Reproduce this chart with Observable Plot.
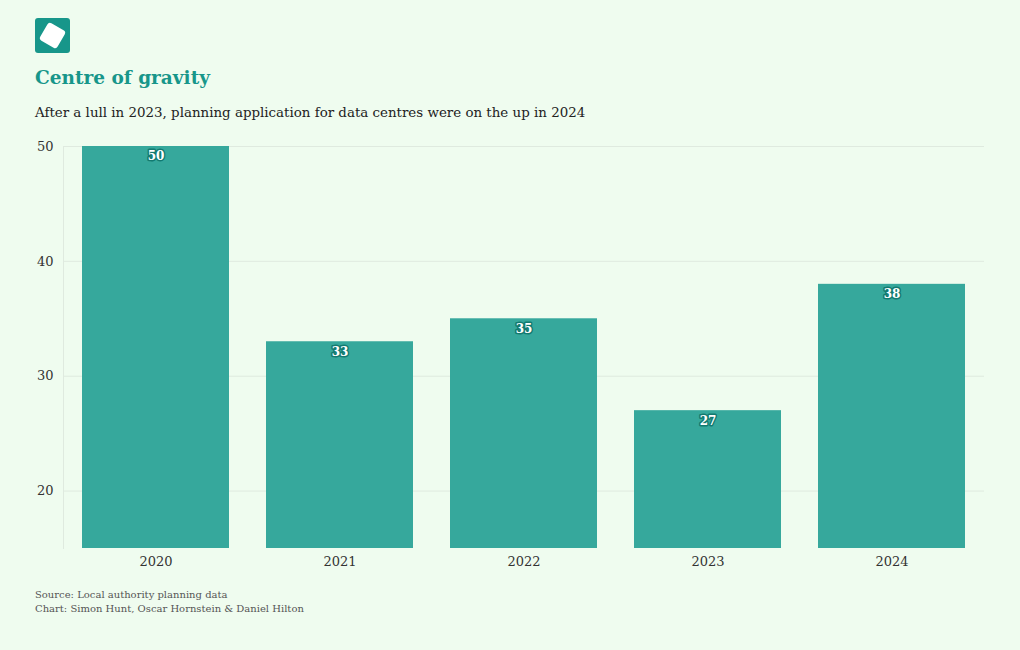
<!DOCTYPE html>
<html>
<head>
<meta charset="utf-8">
<script src="https://cdn.jsdelivr.net/npm/d3@7"></script>
<script src="https://cdn.jsdelivr.net/npm/@observablehq/plot@0.6"></script>
<style>
  html, body { margin: 0; padding: 0; background: #effcef; }
  #wrap { position: relative; width: 1020px; height: 650px; background: #effcef; font-family: "DejaVu Serif", serif; overflow: hidden; }
  #logo { position: absolute; left: 35px; top: 18px; }
  #title { position: absolute; left: 35px; top: 67px; font-size: 18.5px; font-weight: bold; color: #17968a; margin: 0; }
  #subtitle { position: absolute; left: 35px; top: 105px; font-size: 13.4px; color: #222; margin: 0; }
  #chart { position: absolute; left: 0; top: 136px; }
  #caption { position: absolute; left: 35px; top: 588px; font-size: 10px; color: #555; line-height: 13.5px; }
</style>
</head>
<body>
<div id="wrap">
  <svg id="logo" width="35" height="35" viewBox="0 0 35 35">
    <rect x="0" y="0" width="35" height="35" rx="3" fill="#17968a"/>
    <rect x="7.5" y="7.5" width="20" height="20" rx="3" fill="#ffffff" transform="rotate(30 17.5 17.5)"/>
  </svg>
  <div id="title">Centre of gravity</div>
  <div id="subtitle">After a lull in 2023, planning application for data centres were on the up in 2024</div>
  <div id="chart"></div>
  <div id="caption">Source: Local authority planning data<br>Chart: Simon Hunt, Oscar Hornstein &amp; Daniel Hilton</div>
</div>
<script>
const years = ["2020", "2021", "2022", "2023", "2024"];
const counts = [50, 33, 35, 27, 38];
const yTicks = [20, 30, 40, 50];

const data = years.map((y, i) => ({year: y, count: counts[i]}));

const chart = Plot.plot({
  width: 1020,
  height: 442,
  marginTop: 10,
  marginLeft: 63,
  marginRight: 36,
  marginBottom: 30,
  style: { background: "transparent", fontFamily: "DejaVu Serif, serif", fontSize: "13px", color: "#333" },
  x: { domain: years, paddingInner: 0.2, paddingOuter: 0.1, label: null },
  y: { domain: [15, 50], label: null },
  marks: [
    Plot.gridY(yTicks, { stroke: "#dfeadf", strokeOpacity: 1 }),
    Plot.frame({ anchor: "left", stroke: "#dfeadf", strokeOpacity: 1 }),
    Plot.barY(data, { x: "year", y1: 15, y2: "count", fill: "#36a89c" }),
    Plot.text(data, { x: "year", y: "count", text: d => String(d.count), dy: 10, fill: "white", stroke: "#127a70", strokeWidth: 3, fontWeight: "bold", fontSize: 12 }),
    Plot.axisY({ ticks: yTicks, tickSize: 0, tickPadding: 10, label: null, fontSize: 13, fill: "#333" }),
    Plot.axisX({ tickSize: 0, tickPadding: 8, label: null, fontSize: 13, fill: "#333" })
  ]
});
document.getElementById("chart").appendChild(chart);
</script>
</body>
</html>
